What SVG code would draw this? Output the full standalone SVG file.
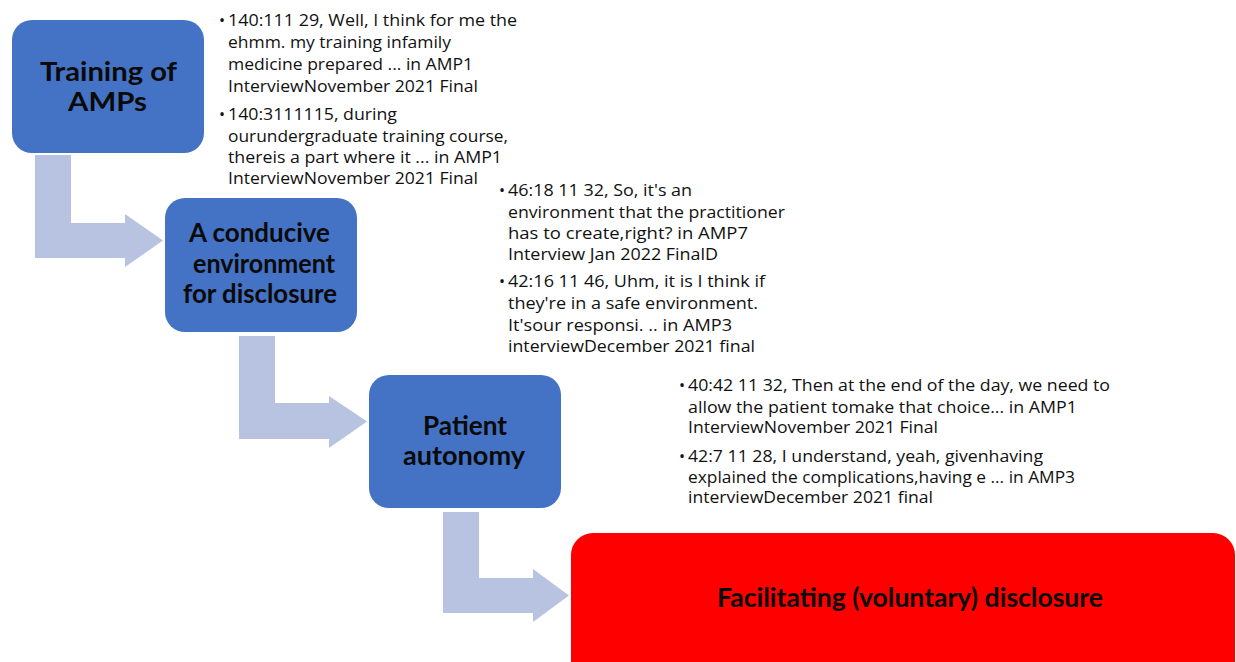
<svg xmlns="http://www.w3.org/2000/svg" width="1236" height="662" viewBox="0 0 1236 662">
<style>
.box{fill:#4472C4;}
.final{fill:#FF0000;}
.arrow{fill:#B8C3E1;}
.lbl{font-family:Lato,"Liberation Sans",sans-serif;font-weight:bold;font-size:27px;fill:#0a0a0a;text-anchor:middle;}
.q{font-family:"Open Sans","Liberation Sans",sans-serif;font-size:16px;fill:#111;}
</style>
<rect width="1236" height="662" fill="#ffffff"/>
<g id="connectors">
<path class="arrow" d="M35,155 L71,155 L71,223 L125,223 L125,214 L163,240.5 L125,267 L125,258 L35,258 Z"/>
<path class="arrow" d="M239,336 L275,336 L275,403 L329,403 L329,396 L367,421.5 L329,448 L329,439 L239,439 Z"/>
<path class="arrow" d="M443,512 L479,512 L479,578 L533,578 L533,569 L569,595.5 L533,622 L533,613 L443,613 Z"/>
</g>
<g id="node-training">
<rect class="box" x="12" y="20" width="192" height="133" rx="20"/>
<text class="lbl" x="108.5" y="81" textLength="137" lengthAdjust="spacingAndGlyphs">Training of</text>
<text class="lbl" x="107.5" y="111" textLength="79" lengthAdjust="spacingAndGlyphs">AMPs</text>
</g>
<g id="node-environment">
<rect class="box" x="165" y="198" width="192" height="134" rx="20"/>
<text class="lbl" x="259.5" y="242" textLength="141" lengthAdjust="spacingAndGlyphs">A conducive</text>
<text class="lbl" x="264" y="273" textLength="142" lengthAdjust="spacingAndGlyphs">environment</text>
<text class="lbl" x="260" y="303" textLength="154" lengthAdjust="spacingAndGlyphs">for disclosure</text>
</g>
<g id="node-autonomy">
<rect class="box" x="369" y="375" width="192" height="133" rx="20"/>
<text class="lbl" x="465" y="435" textLength="84" lengthAdjust="spacingAndGlyphs">Patient</text>
<text class="lbl" x="464" y="465" textLength="122" lengthAdjust="spacingAndGlyphs">autonomy</text>
</g>
<g id="node-disclosure">
<rect class="final" x="571" y="533" width="664" height="160" rx="22"/>
<text class="lbl" x="910" y="607" textLength="386" lengthAdjust="spacingAndGlyphs">Facilitating (voluntary) disclosure</text>
</g>
<g id="quotes-training">
<text class="q" x="219" y="26">•</text>
<text class="q" x="228" y="26" textLength="289" lengthAdjust="spacingAndGlyphs">140:111 29, Well, I think for me the</text>
<text class="q" x="228" y="48" textLength="223" lengthAdjust="spacingAndGlyphs">ehmm. my training infamily</text>
<text class="q" x="228" y="70" textLength="245" lengthAdjust="spacingAndGlyphs">medicine prepared ... in AMP1</text>
<text class="q" x="228" y="92" textLength="250" lengthAdjust="spacingAndGlyphs">InterviewNovember 2021 Final</text>
<text class="q" x="219" y="120">•</text>
<text class="q" x="228" y="120" textLength="169" lengthAdjust="spacingAndGlyphs">140:3111115, during</text>
<text class="q" x="228" y="142" textLength="280" lengthAdjust="spacingAndGlyphs">ourundergraduate training course,</text>
<text class="q" x="228" y="163" textLength="274" lengthAdjust="spacingAndGlyphs">thereis a part where it ... in AMP1</text>
<text class="q" x="228" y="184" textLength="250" lengthAdjust="spacingAndGlyphs">InterviewNovember 2021 Final</text>
</g>
<g id="quotes-environment">
<text class="q" x="499" y="196">•</text>
<text class="q" x="508" y="196" textLength="184" lengthAdjust="spacingAndGlyphs">46:18 11 32, So, it's an</text>
<text class="q" x="508" y="218" textLength="277" lengthAdjust="spacingAndGlyphs">environment that the practitioner</text>
<text class="q" x="508" y="239" textLength="240" lengthAdjust="spacingAndGlyphs">has to create,right? in AMP7</text>
<text class="q" x="508" y="260" textLength="210" lengthAdjust="spacingAndGlyphs">Interview Jan 2022 FinalD</text>
<text class="q" x="499" y="287">•</text>
<text class="q" x="508" y="287" textLength="257" lengthAdjust="spacingAndGlyphs">42:16 11 46, Uhm, it is I think if</text>
<text class="q" x="508" y="309" textLength="250" lengthAdjust="spacingAndGlyphs">they're in a safe environment.</text>
<text class="q" x="508" y="331" textLength="224" lengthAdjust="spacingAndGlyphs">It'sour responsi. .. in AMP3</text>
<text class="q" x="508" y="352" textLength="247" lengthAdjust="spacingAndGlyphs">interviewDecember 2021 final</text>
</g>
<g id="quotes-autonomy">
<text class="q" x="679" y="391">•</text>
<text class="q" x="688" y="391" textLength="422" lengthAdjust="spacingAndGlyphs">40:42 11 32, Then at the end of the day, we need to</text>
<text class="q" x="688" y="413" textLength="389" lengthAdjust="spacingAndGlyphs">allow the patient tomake that choice... in AMP1</text>
<text class="q" x="688" y="433" textLength="250" lengthAdjust="spacingAndGlyphs">InterviewNovember 2021 Final</text>
<text class="q" x="679" y="462">•</text>
<text class="q" x="688" y="462" textLength="355" lengthAdjust="spacingAndGlyphs">42:7 11 28, I understand, yeah, givenhaving</text>
<text class="q" x="688" y="483" textLength="387" lengthAdjust="spacingAndGlyphs">explained the complications,having e ... in AMP3</text>
<text class="q" x="688" y="503" textLength="245" lengthAdjust="spacingAndGlyphs">interviewDecember 2021 final</text>
</g>
</svg>
